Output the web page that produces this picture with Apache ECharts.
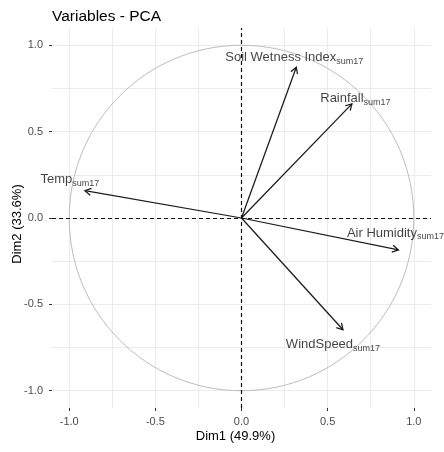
<!DOCTYPE html>
<html>
<head>
<meta charset="utf-8">
<script src="https://cdn.jsdelivr.net/npm/echarts@6/dist/echarts.min.js"></script>
<style>
html,body{margin:0;padding:0;background:#fff;}
#chart{width:444px;height:452px;}
</style>
</head>
<body>
<div id="chart"></div>
<script>
// ---- data ----
var varNames = ['Soil Wetness Index', 'Rainfall', 'Temp', 'Air Humidity', 'WindSpeed'];
var varSuffix = ['sum17', 'sum17', 'sum17', 'sum17', 'sum17'];
var dim1 = [0.318, 0.641, -0.909, 0.911, 0.589];
var dim2 = [0.873, 0.661, 0.158, -0.185, -0.647];
var tickValues = [-1, -0.5, 0, 0.5, 1];
var minorValues = [-0.75, -0.25, 0.25, 0.75];
var circleCenter = [[0, 0]];

// ---- presentation ----
var labelOffsets = [[-2, -10], [3.5, -5.7], [-15, -11], [-3, -17], [-10, 14.5]];
var FONT = '"Liberation Sans", Arial, sans-serif';

var chart = echarts.init(document.getElementById('chart'), null, {renderer: 'canvas'});

function fmt(v) { return Number(v).toFixed(1); }

function makeAxis(isX, name) {
  return {
    type: 'value', min: -1.1, max: 1.1,
    name: name, nameLocation: 'middle', nameGap: isX ? 22 : 28,
    nameMoveOverlap: false,
    nameTextStyle: {color: '#000', fontSize: 13, fontFamily: FONT, padding: [0, 12, 0, 0]},
    axisLine: {show: false, onZero: false},
    axisTick: {show: true, length: 3, customValues: tickValues, lineStyle: {color: '#333', width: 1}},
    axisLabel: {show: true, customValues: tickValues, formatter: fmt, color: '#4d4d4d', fontSize: 11, fontFamily: FONT, margin: isX ? 8 : 9},
    splitLine: {show: true, lineStyle: {color: '#ebebeb', width: 1}}
  };
}
function minorAxis() {
  return {
    type: 'value', min: -1.1, max: 1.1,
    axisLine: {show: false, onZero: false},
    axisTick: {show: false, customValues: minorValues},
    axisLabel: {show: false, customValues: minorValues},
    splitLine: {show: true, lineStyle: {color: '#ebebeb', width: 1}}
  };
}

var tips = varNames.map(function (n, i) { return [dim1[i], dim2[i]]; });

var option = {
  animation: false,
  backgroundColor: '#fff',
  title: {
    text: 'Variables - PCA', left: 47, top: 4,
    textStyle: {color: '#000', fontSize: 15.5, fontWeight: 'normal', fontFamily: FONT}
  },
  grid: {left: 52, right: 13, top: 28, bottom: 44, containLabel: false, outerBoundsMode: 'none'},
  xAxis: [makeAxis(true, 'Dim1 (49.9%)'), minorAxis()],
  yAxis: [makeAxis(false, 'Dim2 (33.6%)'), minorAxis()],
  series: [
    {
      type: 'custom', xAxisIndex: 0, yAxisIndex: 0, z: 2, silent: true,
      data: circleCenter,
      renderItem: function (params, api) {
        var c = api.coord([api.value(0), api.value(1)]);
        var r = api.size([1, 1]);
        return {
          type: 'ellipse',
          shape: {cx: c[0], cy: c[1], rx: r[0], ry: r[1]},
          style: {fill: null, stroke: '#bdbdbd', lineWidth: 1}
        };
      }
    },
    {
      type: 'scatter', xAxisIndex: 0, yAxisIndex: 0, z: 3, silent: true,
      symbolSize: 0,
      data: tips.map(function (p, i) {
        return {
          value: p, name: varNames[i],
          label: {offset: labelOffsets[i], formatter: '{m|' + varNames[i] + '}{s|' + varSuffix[i] + '}'}
        };
      }),
      label: {
        show: true, position: 'inside', color: '#000',
        rich: {
          m: {fontSize: 13, fontFamily: FONT, color: '#111'},
          s: {fontSize: 9, fontFamily: FONT, color: '#111', padding: [8, 0, 0, 0]}
        }
      },
      markLine: {
        silent: true, symbol: 'none', label: {show: false},
        lineStyle: {color: '#111', type: [4, 3], width: 1.2},
        data: [{xAxis: 0}, {yAxis: 0}]
      }
    },
    {
      type: 'custom', xAxisIndex: 0, yAxisIndex: 0, z: 4, silent: true,
      data: tips,
      renderItem: function (params, api) {
        var o = api.coord([0, 0]);
        var p = api.coord([api.value(0), api.value(1)]);
        var ang = Math.atan2(p[1] - o[1], p[0] - o[0]);
        var L = 7, a = Math.PI / 6;
        var h1 = [p[0] - L * Math.cos(ang - a), p[1] - L * Math.sin(ang - a)];
        var h2 = [p[0] - L * Math.cos(ang + a), p[1] - L * Math.sin(ang + a)];
        return {
          type: 'group',
          children: [
            {type: 'line', shape: {x1: o[0], y1: o[1], x2: p[0], y2: p[1]}, style: {stroke: '#1a1a1a', lineWidth: 1.25}},
            {type: 'polyline', shape: {points: [h1, p, h2]}, style: {stroke: '#1a1a1a', lineWidth: 1.25, fill: null}}
          ]
        };
      }
    }
  ]
};
chart.setOption(option);
</script>
</body>
</html>
